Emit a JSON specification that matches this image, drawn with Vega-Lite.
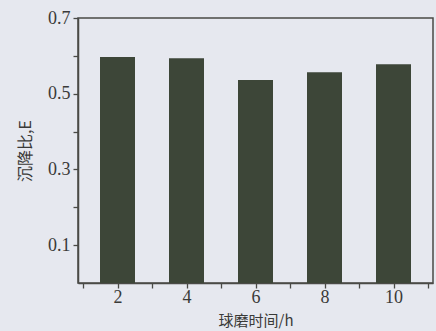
{
  "$schema": "https://vega.github.io/schema/vega-lite/v6.json",
  "width": 355,
  "height": 265,
  "autosize": {"type": "none"},
  "padding": {"left": 78, "top": 18, "right": 3, "bottom": 48},
  "background": "#e6e8ef",
  "config": {
    "view": {"stroke": "#4a4a46", "strokeWidth": 1.5},
    "axis": {
      "grid": false,
      "domainColor": "#4a4a46",
      "domainWidth": 1.5,
      "tickColor": "#4a4a46",
      "tickWidth": 1.3,
      "labelFont": "Liberation Serif",
      "labelFontSize": 18,
      "labelColor": "#3a3a38",
      "titleFont": "Noto Sans CJK SC",
      "titleFontSize": 15,
      "titleFontWeight": "normal",
      "titleColor": "#3a3a38"
    }
  },
  "data": {
    "values": [
      {"t": 2, "E": 0.597},
      {"t": 4, "E": 0.594},
      {"t": 6, "E": 0.536},
      {"t": 8, "E": 0.557},
      {"t": 10, "E": 0.578}
    ]
  },
  "mark": {"type": "bar", "size": 35, "color": "#3d4638"},
  "encoding": {
    "x": {
      "field": "t", "type": "quantitative",
      "scale": {"domain": [1, 11], "nice": false},
      "axis": {
        "orient": "bottom",
        "values": [1, 2, 3, 4, 5, 6, 7, 8, 9, 10, 11],
        "labelExpr": "datum.value % 2 == 0 ? datum.label : ''",
        "tickSize": 5,
        "labelPadding": 0,
        "title": "球磨时间/h",
        "titlePadding": 7
      }
    },
    "y": {
      "field": "E", "type": "quantitative",
      "scale": {"domain": [0, 0.7], "nice": false},
      "axis": {
        "orient": "left",
        "values": [0.1, 0.2, 0.3, 0.4, 0.5, 0.6, 0.7],
        "labelExpr": "indexof(['0.1','0.3','0.5','0.7'], datum.label) >= 0 ? datum.label : ''",
        "tickSize": 5,
        "labelPadding": 3,
        "title": "沉降比,E",
        "titleFontSize": 16,
        "titlePadding": 14
      }
    }
  }
}
